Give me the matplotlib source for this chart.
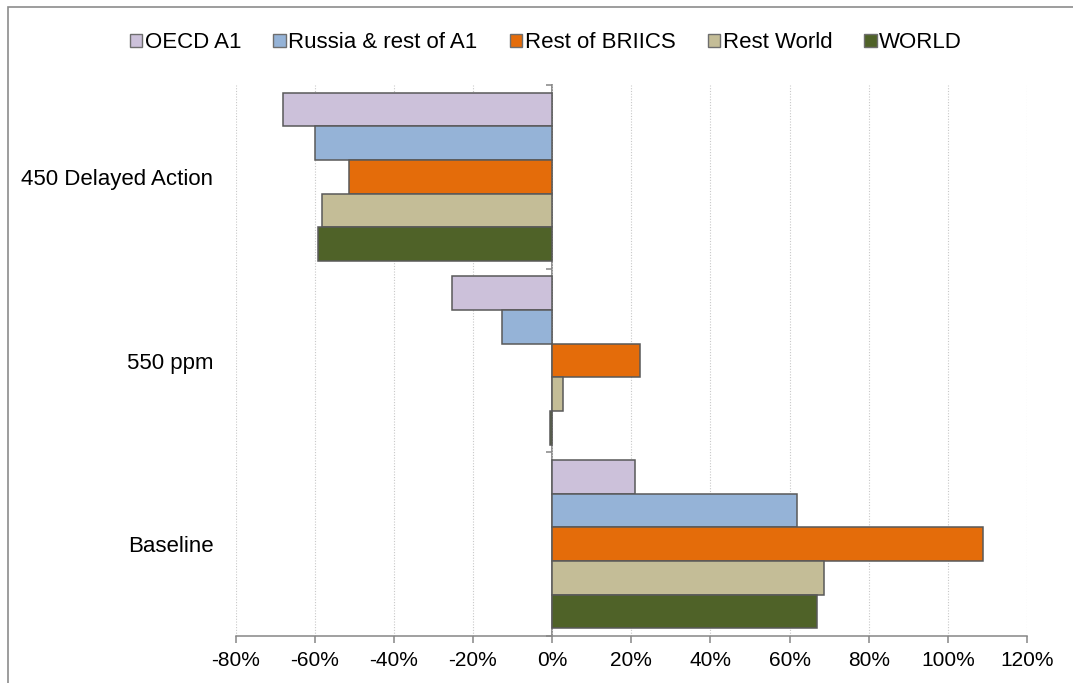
import numpy as np
import matplotlib
matplotlib.use('Agg')
import matplotlib.pyplot as plt
from matplotlib.patches import Patch, Rectangle

plt.rcParams['font.family'] = ['Liberation Sans', 'DejaVu Sans']

# data (% change)
scenarios = ['450 Delayed Action', '550 ppm', 'Baseline']
regions = ['OECD A1', 'Russia & rest of A1', 'Rest of BRIICS', 'Rest World', 'WORLD']
oecd_a1 = [-68.0, -25.3, 21.0]
russia_a1 = [-59.9, -12.6, 61.9]
rest_briics = [-51.3, 22.2, 108.9]
rest_world = [-58.1, 2.8, 68.7]
world = [-59.1, -0.5, 67.0]
series = [oecd_a1, russia_a1, rest_briics, rest_world, world]
colours = ['#CCC1DA', '#95B3D7', '#E46C0A', '#C4BD97', '#4F6228']
xticks = [-80, -60, -40, -20, 0, 20, 40, 60, 80, 100, 120]

fig = plt.figure(figsize=(10.73, 6.83), dpi=100)
ax = fig.add_axes([235.5/1073, 47/683, 791.5/1073, 551/683])

ypos = np.arange(len(scenarios))
h = 0.183
for i, (vals, col) in enumerate(zip(series, colours)):
    ax.barh(ypos + (i - 2) * h, vals, height=h, color=col,
            edgecolor='#595959', linewidth=1.1, zorder=3)

ax.set_xlim(-80, 120)
ax.set_ylim(2.5, -0.5)
ax.set_xticks(xticks)
ax.set_xticklabels(['%d%%' % t for t in xticks])
ax.set_yticks(ypos)
ax.set_yticklabels(scenarios)
ax.tick_params(axis='y', length=0, pad=16, labelsize=16)
ax.tick_params(axis='x', length=5, width=1.1, color='#868686', pad=6, labelsize=15)

ax.xaxis.grid(True, linestyle=(0, (1, 1.5)), color='#C8C8C8', linewidth=0.8, zorder=0)
for s in ['left', 'right', 'top']:
    ax.spines[s].set_visible(False)
ax.spines['bottom'].set_color('#868686')
ax.spines['bottom'].set_linewidth(1.1)

# category axis crossing at zero
sec = ax.secondary_yaxis(80/200)
sec.set_yticks([-0.5, 0.5, 1.5, 2.5])
sec.set_yticklabels([])
sec.tick_params(length=4.5, width=1.1, color='#868686')
sec.spines['left'].set_color('#868686')
sec.spines['left'].set_linewidth(1.3)

handles = [Patch(facecolor=c, edgecolor='#6E6E6E', linewidth=1.0) for c in colours]
fig.legend(handles, regions, loc='center', bbox_to_anchor=(546/1073, 1 - 43/683),
           ncol=5, frameon=False, fontsize=16, handlelength=0.55, handleheight=0.55,
           handletextpad=0.12, columnspacing=1.45)

# outer chart frame (only left and top visible in the crop)
fig.add_artist(Rectangle((8/1073, -0.1), 1.2, 1 - 7/683 + 0.1, transform=fig.transFigure,
                         fill=False, edgecolor='#8C8C8C', linewidth=1.2, clip_on=False))

fig.savefig('out.png', dpi=100)
